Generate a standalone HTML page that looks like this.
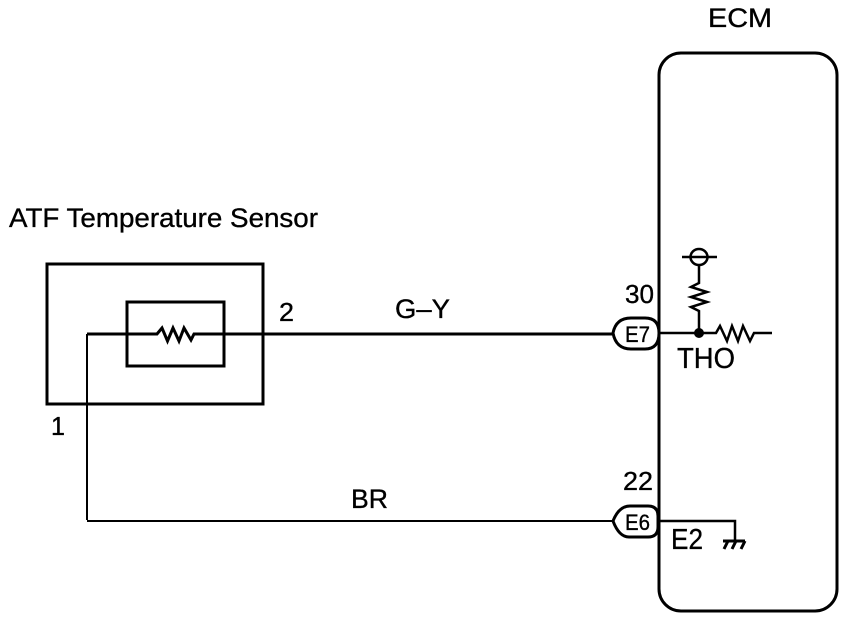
<!DOCTYPE html>
<html>
<head>
<meta charset="utf-8">
<style>
html,body{margin:0;padding:0;background:#fff;width:864px;height:620px;overflow:hidden}
svg{display:block}
text{font-family:"Liberation Sans",sans-serif;fill:#000;stroke:#000;stroke-width:.35}
</style>
</head>
<body>
<svg width="864" height="620" viewBox="0 0 864 620" xmlns="http://www.w3.org/2000/svg">
<rect width="864" height="620" fill="#fff"/>
<g fill="none" stroke="#000" stroke-linejoin="miter">
<!-- ECM -->
<rect x="659" y="53" width="178" height="558" rx="22" ry="22" stroke-width="3"/>
<!-- Sensor boxes -->
<rect x="47" y="264" width="216" height="140" stroke-width="3"/>
<rect x="127" y="302" width="97" height="64" stroke-width="3"/>
<!-- G-Y wire with resistor -->
<path d="M87 334H157L162 328L167.500 341L173 328L179 341L184 328L191 340L194 334H612" stroke-width="3"/>
<path d="M87 334V520" stroke-width="2"/>
<path d="M87 521H612" stroke-width="2"/>
<!-- ECM internal -->
<path d="M660 333H716L720 326L727 341L732 326L738 341L743 326L750 341L754 333H772" stroke-width="2.500"/>
<path d="M699 333V311L691 307L707 302L691 297L707 292L691 287L699 283V265" stroke-width="2.500"/>
<ellipse cx="699" cy="257" rx="8.500" ry="8" stroke-width="2.500"/>
<path d="M682 257H717" stroke-width="2.500"/>
<!-- E2 ground -->
<path d="M660 521H735V540" stroke-width="2.500"/>
<path d="M723 541H745" stroke-width="3"/>
<path d="M728 541L724 549M736 541L732 549M745 541L741 549" stroke-width="3"/>
<!-- Connectors -->
<path d="M613 333Q616 318 631 318H645Q659 318 659 333Q659 349 645 349H631Q616 349 613 333Z" fill="#fff" stroke-width="3"/>
<path d="M613 521Q619 506 630 506H648Q658 506 658 516V527Q658 537 648 537H629Q619 537 613 521Z" fill="#fff" stroke-width="3"/>
</g>
<circle cx="699" cy="333" r="5" fill="#000"/>
<text x="9" y="227" font-size="27" textLength="309" lengthAdjust="spacingAndGlyphs">ATF Temperature Sensor</text>
<text x="708" y="27" font-size="27" textLength="64" lengthAdjust="spacingAndGlyphs">ECM</text>
<text x="279" y="321" font-size="26" textLength="15" lengthAdjust="spacingAndGlyphs">2</text>
<text x="51" y="435" font-size="26" textLength="14" lengthAdjust="spacingAndGlyphs">1</text>
<text x="395" y="318" font-size="27" textLength="55" lengthAdjust="spacingAndGlyphs">G–Y</text>
<text x="351" y="508" font-size="27" textLength="37" lengthAdjust="spacingAndGlyphs">BR</text>
<text x="625" y="303" font-size="26" textLength="29" lengthAdjust="spacingAndGlyphs">30</text>
<text x="623" y="490" font-size="26" textLength="30" lengthAdjust="spacingAndGlyphs">22</text>
<text x="677" y="368" font-size="29" textLength="58" lengthAdjust="spacingAndGlyphs">THO</text>
<text x="671" y="549" font-size="29" textLength="32" lengthAdjust="spacingAndGlyphs">E2</text>
<text x="625" y="342" font-size="22" textLength="25" lengthAdjust="spacingAndGlyphs">E7</text>
<text x="625" y="530" font-size="22" textLength="25" lengthAdjust="spacingAndGlyphs">E6</text>
</svg>
</body>
</html>
